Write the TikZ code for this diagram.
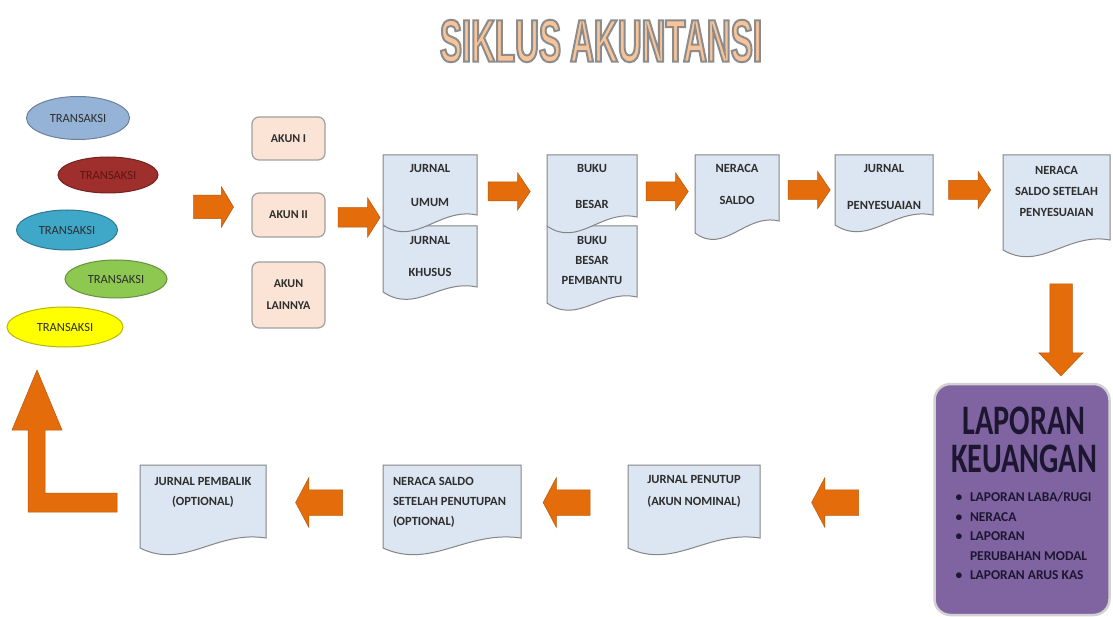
\documentclass[tikz,border=0pt]{standalone}
\usepackage{fontspec}
\setmainfont{Carlito}
\newfontfamily\titlefont[FakeStretch=0.55]{Liberation Sans}
\newfontfamily\lapfont[FakeStretch=0.72]{Carlito}
\usetikzlibrary{shapes.geometric,shapes.arrows}
\definecolor{orangeA}{HTML}{E46C0A}
\definecolor{orangeB}{HTML}{B95A0D}
\definecolor{docfill}{HTML}{DCE6F2}
\definecolor{docline}{HTML}{858585}
\definecolor{txt}{HTML}{2E2E2E}
\definecolor{akunfill}{HTML}{FBE4D5}
\definecolor{akunline}{HTML}{A0A0A0}
\definecolor{purp}{HTML}{8064A2}
\definecolor{purpline}{HTML}{D2D2D2}
\definecolor{purptext}{HTML}{1C1630}
\definecolor{titlefill}{HTML}{F7C49A}
\definecolor{eblue}{HTML}{95B3D7}
\definecolor{ered}{HTML}{9E2F2D}
\definecolor{eredtext}{HTML}{5E1514}
\definecolor{eteal}{HTML}{3FA8C8}
\definecolor{egreen}{HTML}{8DC851}
\definecolor{eyellow}{HTML}{FFFF00}
\newcommand\fs[2]{\fontsize{#1}{#2}\selectfont}
\tikzset{
  every node/.style={inner sep=0pt, outer sep=0pt},
  tx/.style={text=txt, font=\bfseries\fs{12.5}{15}, align=center},
  ell/.style={ellipse, draw=#1!72!black, fill=#1, line width=1pt, text=txt, font=\fs{12.5}{15}},
  akun/.style={rectangle, rounded corners=7pt, draw=akunline, fill=akunfill, line width=1.2pt,
    minimum width=73pt, text=txt, align=center},
  docbox/.style={rectangle, draw=none, minimum width=#1},
  docpath/.style={draw=docline, fill=docfill, line width=1pt},
  blockarrow/.style={single arrow, single arrow head indent=0pt, fill=orangeA, draw=orangeB,
    line width=0.5pt, inner xsep=0pt},
  toparrow/.style={blockarrow, minimum height=42pt, inner ysep=9.25pt, single arrow head extend=9.25pt,
    single arrow tip angle=112},
  botarrow/.style={blockarrow, minimum height=47pt, inner ysep=12.5pt, single arrow head extend=12pt,
    single arrow tip angle=124, rotate=180},
}
% node, width, left drop
\newcommand\docshape[3]{%
  \draw[docpath] (#1.north west) -- (#1.north east) -- (#1.south east)
    .. controls +({-0.4*#2},-8) and +({0.35*#2},22) .. ([yshift=-#3pt]#1.south west) -- cycle;}
\begin{document}
\begin{tikzpicture}[x=1pt,y=-1pt]
\useasboundingbox (0,0) rectangle (1113,617);
\fill[white] (0,0) rectangle (1113,617);

% title
\node[text=titlefill, font=\titlefont\bfseries\fs{60}{60}] (title) at (601,41)
  {\special{pdf:literal direct 2 Tr 2 w 0.55 0.55 0.55 RG}SIKLUS AKUNTANSI\special{pdf:literal direct 0 Tr}};

% transactions
\node[ell=eblue, minimum width=103pt, minimum height=43pt] (t1) at (78,118) {TRANSAKSI};
\node[ell=ered, minimum width=100pt, minimum height=36pt, text=eredtext] (t2) at (108,175) {TRANSAKSI};
\node[ell=eteal, minimum width=101pt, minimum height=40pt] (t3) at (67,230) {TRANSAKSI};
\node[ell=egreen, minimum width=102pt, minimum height=38pt] (t4) at (116,279) {TRANSAKSI};
\node[ell=eyellow, minimum width=116pt, minimum height=40pt] (t5) at (65,327) {TRANSAKSI};

% accounts
\node[akun, minimum height=43pt, font=\bfseries\fs{12}{15}] (a1) at (288.5,138.5) {AKUN I};
\node[akun, minimum height=44pt, font=\bfseries\fs{12}{15}] (a2) at (288.5,215) {AKUN II};
\node[akun, minimum height=66pt, font=\bfseries\fs{12}{22}] (a3) at (288.5,295) {AKUN\\LAINNYA};

% arrows
\node[blockarrow, minimum height=40pt, inner ysep=11.5pt, single arrow head extend=8.5pt, single arrow tip angle=118] (r1) at (210,207) {};
\node[blockarrow, minimum height=42pt, inner ysep=9.5pt, single arrow head extend=10pt, single arrow tip angle=115] (r2) at (356,217.5) {};
\node[toparrow] (r3) at (506,191.5) {};
\node[toparrow] (r4) at (664,191.5) {};
\node[toparrow] (r5) at (806,190) {};
\node[toparrow] (r6) at (966.5,190) {};
\node[blockarrow, minimum height=92pt, inner ysep=11pt, single arrow head extend=11pt, single arrow tip angle=88, rotate=-90] (rd) at (1061,324) {};
\node[botarrow] (ra) at (838.5,502.5) {};
\node[botarrow] (rb) at (570,502.5) {};
\node[botarrow] (rc) at (322.5,502.5) {};
\draw[fill=orangeA, draw=orangeB, line width=0.5pt] (37,370) -- (62,430) -- (45,430) -- (45,493) -- (117,493)
  -- (117,512) -- (28,512) -- (28,430) -- (12,430) -- cycle;

% documents
\node[docbox=94pt, minimum height=61pt] (khusus) at (430,256.5) {};
\docshape{khusus}{94}{5}
\node[docbox=94pt, minimum height=60pt] (umum) at (430,185) {};
\docshape{umum}{94}{10}
\node[docbox=90pt, minimum height=71pt] (pembantu) at (592,261.5) {};
\docshape{pembantu}{90}{6}
\node[docbox=90pt, minimum height=62pt] (besar) at (592,186) {};
\docshape{besar}{90}{9}
\node[docbox=84pt, minimum height=66pt] (saldo) at (737,188) {};
\docshape{saldo}{84}{12}
\node[docbox=98pt, minimum height=60pt] (peny) at (884,185) {};
\docshape{peny}{98}{10}
\node[docbox=107pt, minimum height=85pt] (nsp) at (1056.5,197.5) {};
\docshape{nsp}{107}{10}
\node[docbox=126pt, minimum height=73pt] (pembalik) at (203,501.5) {};
\docshape{pembalik}{126}{10}
\node[docbox=138pt, minimum height=73pt] (penutupan) at (452,501.5) {};
\docshape{penutupan}{138}{10}
\node[docbox=132pt, minimum height=73pt] (penutup) at (694,501.5) {};
\docshape{penutup}{132}{10}

% document texts
\node[tx, font=\bfseries\fs{12.5}{34}] (umumT) at (430,185) {JURNAL\\UMUM};
\node[tx, font=\bfseries\fs{12.5}{32}] (khususT) at (430,256) {JURNAL\\KHUSUS};
\node[tx, font=\bfseries\fs{12.5}{36}] (besarT) at (592,186) {BUKU\\BESAR};
\node[tx, font=\bfseries\fs{12.5}{20}] (pembantuT) at (592,260) {BUKU\\BESAR\\PEMBANTU};
\node[tx, font=\bfseries\fs{12.5}{32}] (saldoT) at (737,184) {NERACA\\SALDO};
\node[tx, font=\bfseries\fs{12.5}{37}] (penyT) at (884,186.5) {JURNAL\\PENYESUAIAN};
\node[tx, font=\bfseries\fs{12.5}{21}] (nspT) at (1056.5,191) {NERACA\\SALDO SETELAH\\PENYESUAIAN};
\node[tx, font=\bfseries\fs{12.5}{20}] (pembalikT) at (203,492) {JURNAL PEMBALIK\\(OPTIONAL)};
\node[tx, font=\bfseries\fs{12.5}{20}, align=left, anchor=west] (penutupanT) at (393,502) {NERACA SALDO\\SETELAH PENUTUPAN\\(OPTIONAL)};
\node[tx, font=\bfseries\fs{12.5}{22}] (penutupT) at (694,491) {JURNAL PENUTUP\\(AKUN NOMINAL)};

% financial statements
\node[rectangle, rounded corners=16pt, fill=purp, draw=purpline, line width=2.5pt,
  minimum width=175pt, minimum height=231pt] (lap) at (1022,499.5) {};
\node[text=purptext, font=\lapfont\bfseries\fs{42}{38}, align=center] (lapT) at (1024,440) {LAPORAN\\KEUANGAN};
\node[text=purptext, font=\bfseries\fs{13.5}{19.5}, align=left, anchor=north west] (lapL) at (955.5,492.5)
  {\makebox[14.5pt][l]{\textbullet}LAPORAN LABA/RUGI\\
   \makebox[14.5pt][l]{\textbullet}NERACA\\
   \makebox[14.5pt][l]{\textbullet}LAPORAN\\
   \makebox[14.5pt][l]{}PERUBAHAN MODAL\\
   \makebox[14.5pt][l]{\textbullet}LAPORAN ARUS KAS};
\end{tikzpicture}
\end{document}
